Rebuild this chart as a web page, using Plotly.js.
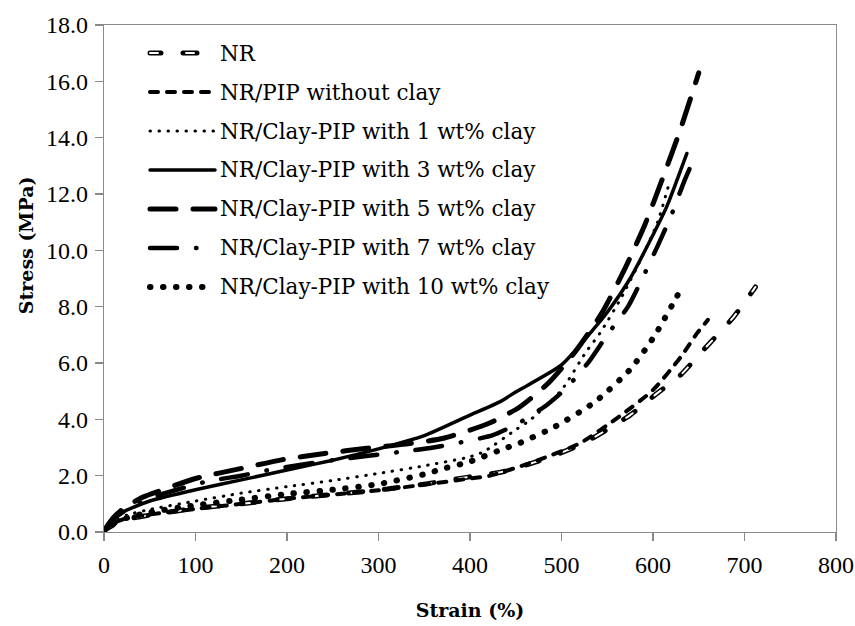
<!DOCTYPE html>
<html>
<head>
<meta charset="utf-8">
<script src="https://cdn.plot.ly/plotly-3.0.1.min.js"></script>
<style>
  html, body { margin: 0; padding: 0; background: #fff; }
  #chart { width: 855px; height: 626px; }
  .js-line { stroke-linecap: round !important; stroke-linejoin: round !important; }
</style>
</head>
<body>
<div id="chart"></div>
<script>
// ---- data ----
const seriesNames = [
  "NR",
  "NR/PIP without clay",
  "NR/Clay-PIP with 1 wt% clay",
  "NR/Clay-PIP with 3 wt% clay",
  "NR/Clay-PIP with 5 wt% clay",
  "NR/Clay-PIP with 7 wt% clay",
  "NR/Clay-PIP with 10 wt% clay"
];

const strainNR = [0, 10, 25, 50, 100, 150, 200, 250, 300, 350, 400, 436, 473, 500, 524, 549, 575, 602, 630, 655, 688, 712];
const stressNR = [0.05, 0.25, 0.45, 0.6, 0.84, 1.0, 1.18, 1.33, 1.49, 1.7, 1.96, 2.14, 2.5, 2.82, 3.15, 3.62, 4.15, 4.86, 5.57, 6.46, 7.63, 8.7];

const strainPIP = [0, 10, 25, 50, 100, 150, 200, 250, 300, 350, 400, 422, 470, 520, 564, 600, 630, 648, 660];
const stressPIP = [0.05, 0.3, 0.5, 0.62, 0.82, 1.0, 1.18, 1.33, 1.48, 1.68, 1.9, 2.0, 2.5, 3.15, 4.12, 5.04, 6.2, 7.05, 7.53];

const strainC1 = [0, 10, 25, 50, 100, 150, 200, 250, 300, 350, 400, 415, 450, 466, 500, 527, 542, 565, 587, 605, 617];
const stressC1 = [0.05, 0.35, 0.6, 0.8, 1.1, 1.38, 1.61, 1.83, 2.08, 2.35, 2.67, 2.85, 3.63, 3.98, 5.04, 6.4, 7.06, 8.3, 9.7, 11.0, 12.3];

const strainC3 = [0, 10, 20, 30, 50, 100, 150, 200, 250, 300, 350, 400, 433, 450, 500, 535, 550, 575, 593, 615, 637];
const stressC3 = [0.05, 0.45, 0.7, 0.85, 1.1, 1.5, 1.85, 2.2, 2.55, 2.95, 3.42, 4.15, 4.63, 4.97, 5.93, 7.2, 7.8, 9.0, 10.1, 11.55, 13.44];

const strainC5 = [0, 10, 20, 40, 54, 100, 149, 194, 241, 287, 330, 371, 420, 454, 486, 515, 544, 569, 591, 611, 630, 650];
const stressC5 = [0.05, 0.5, 0.8, 1.2, 1.38, 1.9, 2.25, 2.56, 2.79, 2.97, 3.12, 3.33, 3.85, 4.43, 5.3, 6.4, 7.77, 9.33, 10.9, 12.6, 14.3, 16.3];

const strainC7 = [0, 10, 25, 50, 112, 150, 183, 250, 325, 360, 425, 455, 484, 505, 530, 550, 573, 605, 620, 634, 641];
const stressC7 = [0.05, 0.45, 0.8, 1.2, 1.79, 2.0, 2.22, 2.55, 2.85, 3.0, 3.44, 3.9, 4.51, 5.1, 6.05, 7.0, 8.02, 10.15, 11.25, 12.44, 12.97];

const strainC10 = [0, 10, 25, 50, 100, 150, 200, 250, 300, 350, 371, 400, 438, 450, 493, 537, 575, 601, 631];
const stressC10 = [0.05, 0.3, 0.5, 0.7, 0.95, 1.15, 1.35, 1.5, 1.7, 2.05, 2.25, 2.5, 2.97, 3.1, 3.74, 4.63, 5.77, 6.93, 8.65];

const xTickVals = [0, 100, 200, 300, 400, 500, 600, 700, 800];
const yTickVals = [0, 2, 4, 6, 8, 10, 12, 14, 16, 18];

const xTitle = "Strain (%)";
const yTitle = "Stress (MPa)";

// ---- styles ----
const serif = "DejaVu Serif";
const tickSerif = "Liberation Serif";
const styles = [
  [{color: "#000", width: 5, dash: "11px,22px,3px,0px"}, {color: "#fff", width: 2, dash: "8px,28px"}],
  [{color: "#000", width: 4, dash: "8px,9px"}],
  [{color: "#000", width: 3, dash: "0.5px,8.5px"}],
  [{color: "#000", width: 3.5, dash: "solid"}],
  [{color: "#000", width: 5, dash: "26px,17px"}],
  [{color: "#000", width: 4.5, dash: "27px,19px,0.5px,19px"}],
  [{color: "#000", width: 6, dash: "0.5px,12.5px"}]
];
const xs = [strainNR, strainPIP, strainC1, strainC3, strainC5, strainC7, strainC10];
const ys = [stressNR, stressPIP, stressC1, stressC3, stressC5, stressC7, stressC10];

const traces = [];
// data curves
for (let i = 0; i < seriesNames.length; i++) {
  styles[i].forEach(function (ln) {
    traces.push({
      type: "scatter", mode: "lines", x: xs[i], y: ys[i],
      name: seriesNames[i], showlegend: false, hoverinfo: "skip",
      line: Object.assign({shape: "spline", smoothing: 0.6}, ln),
      xaxis: "x", yaxis: "y"
    });
  });
}
// legend samples on a hidden helper subplot
const annotations = [];
for (let i = 0; i < seriesNames.length; i++) {
  styles[i].forEach(function (ln) {
    traces.push({
      type: "scatter", mode: "lines", x: [0, 1], y: [i, i],
      showlegend: false, hoverinfo: "skip",
      line: Object.assign({}, ln),
      xaxis: "x2", yaxis: "y2"
    });
  });
  annotations.push({
    xref: "x2", yref: "y2", x: 1, y: i, xanchor: "left", yanchor: "middle",
    xshift: 3, text: seriesNames[i], showarrow: false,
    font: {family: serif, size: 21.5, color: "#000"}
  });
}
annotations.push({
  xref: "paper", yref: "paper", x: -0.107, y: 0.565, xanchor: "center", yanchor: "middle",
  textangle: -90, text: "<b>" + yTitle + "</b>", showarrow: false,
  font: {family: serif, size: 19, color: "#000"}
});

const axisGray = "#8a8a8a";
const layout = {
  width: 855, height: 626,
  margin: {l: 104, r: 19, t: 25, b: 94},
  paper_bgcolor: "#fff", plot_bgcolor: "rgba(0,0,0,0)",
  showlegend: false,
  font: {family: serif, color: "#000"},
  xaxis: {
    range: [0, 800], tickvals: xTickVals, ticktext: xTickVals.map(String),
    showgrid: false, zeroline: false, showline: true, mirror: true,
    linecolor: axisGray, linewidth: 1.3,
    ticks: "outside", ticklen: 8, tickcolor: axisGray, tickwidth: 1.3,
    ticklabelstandoff: 3,
    tickfont: {family: tickSerif, size: 24, color: "#000"},
    title: {text: "<b>" + xTitle + "</b>", font: {family: serif, size: 19, color: "#000"}, standoff: 26},
    fixedrange: true
  },
  yaxis: {
    range: [0, 18], tickvals: yTickVals, ticktext: yTickVals.map(function (v) { return v.toFixed(1); }),
    showgrid: false, zeroline: false, showline: true, mirror: true,
    linecolor: axisGray, linewidth: 1.3,
    ticks: "outside", ticklen: 8, tickcolor: axisGray, tickwidth: 1.3,
    ticklabelstandoff: 2,
    tickfont: {family: tickSerif, size: 24, color: "#000"},
    fixedrange: true
  },
  xaxis2: {domain: [0.05396, 0.1605], range: [-0.1, 1.1], anchor: "y2", visible: false, fixedrange: true},
  yaxis2: {domain: [0.4448, 0.9832], range: [6.5, -0.5], anchor: "x2", visible: false, fixedrange: true},
  annotations: annotations
};

Plotly.newPlot("chart", traces, layout, {displayModeBar: false, staticPlot: true});
</script>
</body>
</html>
